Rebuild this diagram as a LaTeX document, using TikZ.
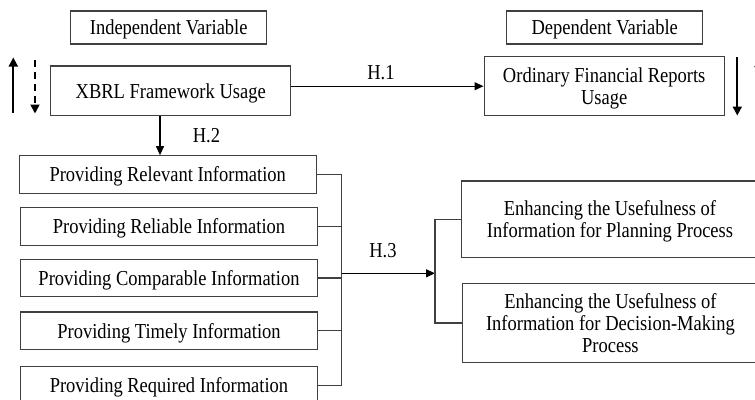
\documentclass[tikz,border=0pt]{standalone}
\usepackage{fontspec}
\setmainfont{Liberation Serif}
\usetikzlibrary{arrows.meta,calc}
\newcommand{\vt}[1]{\raisebox{-3pt}[\height][\depth]{\scalebox{1}[1.15]{\begin{tabular}{@{}c@{}}#1\end{tabular}}}}
\begin{document}
\begin{tikzpicture}[x=1pt,y=-1pt,
  box/.style={draw=black!75,line width=1.1pt,rectangle,inner sep=0pt,align=center,
    font=\fontsize{18.5}{19.1}\selectfont},
  lbl/.style={inner sep=0pt,font=\fontsize{18.5}{19.1}\selectfont},
  link/.style={draw=black!75,line width=1.1pt},
  arr/.style={draw=black,line width=1.1pt,-{Triangle[length=9pt,width=8pt]}},
  sidearr/.style={draw=black,line width=1.8pt,-{Triangle[length=9pt,width=9pt]}}]
\useasboundingbox (0,0) rectangle (755,399);
\clip (0,0) rectangle (755,399);
\node[box,minimum width=196,minimum height=33] (iv) at (168.7,27.5) {\vt{Independent Variable}};
\node[box,minimum width=196,minimum height=33] (dv) at (604.7,27.5) {\vt{Dependent Variable}};
\node[box,minimum width=240,minimum height=49.7] (xbrl) at (170.7,90.8) {\vt{XBRL Framework Usage}};
\node[box,minimum width=240.3,minimum height=59] (ofr) at (604.2,86.2) {\vt{Ordinary Financial Reports\\Usage}};
\node[box,minimum width=296.7,minimum height=37.6] (rel) at (167.7,174.5) {\vt{Providing Relevant Information}};
\node[box,minimum width=296.6,minimum height=37.6] (reli) at (169,226.5) {\vt{Providing Reliable Information}};
\node[box,minimum width=296.6,minimum height=37.6] (comp) at (169,278) {\vt{Providing Comparable Information}};
\node[box,minimum width=296.6,minimum height=37.6] (time) at (169,330.8) {\vt{Providing Timely Information}};
\node[box,minimum width=296.6,minimum height=37.6] (req) at (169,385.5) {\vt{Providing Required Information}};
\node[box,minimum width=296.6,minimum height=76.7] (plan) at (610,219.35) {\vt{Enhancing the Usefulness of\\Information for Planning Process}};
\node[box,minimum width=295.3,minimum height=79.4] (dec) at (610.4,323) {\vt{Enhancing the Usefulness of\\Information for Decision-Making\\Process}};
\node[lbl] (h1) at (381,72) {\vt{H.1}};
\node[lbl] (h2) at (206.5,135) {\vt{H.2}};
\node[lbl] (h3) at (383,250) {\vt{H.3}};
% H.1
\draw[arr] (xbrl.east |- ofr.west) -- (ofr.west);
% H.2
\coordinate (h2s) at ([xshift=-10.7pt]xbrl.south);
\draw[arr] (h2s) -- (h2s |- rel.north);
% bus
\coordinate (busx) at (341.7,0);
\foreach \n in {rel,reli,comp,time,req}{
  \draw[link] (\n.east) -- (\n.east -| busx);
}
\draw[link] ([yshift=-0.55pt]rel.east -| busx) -- ([yshift=0.55pt]req.east -| busx);
\coordinate (hub) at (435,273.3);
\draw[arr] (busx |- hub) -- (hub);
\draw[link] (plan.west) -| (hub) |- (dec.west);
% side arrows
\coordinate (la1) at (13.3,112.7);
\coordinate (la2) at (13.3,57.5);
\draw[sidearr] (la1) -- (la2);
\coordinate (lb1) at (35,60);
\coordinate (lb2) at (35,113.5);
\draw[sidearr,dash pattern=on 7pt off 5pt] (lb1) -- (lb2);
\coordinate (ra1) at (737.3,57);
\coordinate (ra2) at (737.3,115.5);
\draw[sidearr] (ra1) -- (ra2);
\coordinate (rb1) at (759,113);
\coordinate (rb2) at (759,58);
\draw[sidearr,dash pattern=on 7pt off 5pt] (rb1) -- (rb2);
\end{tikzpicture}
\end{document}
